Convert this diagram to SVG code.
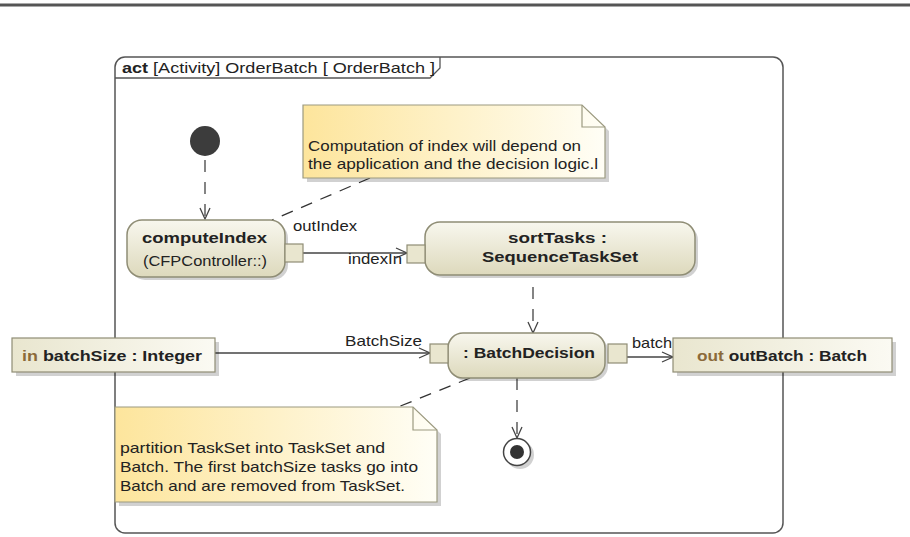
<svg xmlns="http://www.w3.org/2000/svg" width="910" height="537" viewBox="0 0 910 537">
<style>
text{font-family:"Liberation Sans",Arial,sans-serif;font-size:15px;fill:#222}
.b{font-weight:bold}
.kw{fill:#8b6a3a}
.node{fill:url(#ng);stroke:#8f8d75;stroke-width:1.5}
.pin{fill:#e9e6cf;stroke:#8f8d75;stroke-width:1.2}
.obj{fill:url(#og);stroke:#8f8d75;stroke-width:1.2}
.note{fill:url(#yg);stroke:#9c9a80;stroke-width:1.2}
.sh{fill:#000;opacity:0.18}
.flow{fill:none;stroke:#444;stroke-width:1.3}
.ctrl{fill:none;stroke:#444;stroke-width:1.3;stroke-dasharray:12 10}
.anch{fill:none;stroke:#333;stroke-width:1.3;stroke-dasharray:12 9}
</style>
<defs>
<linearGradient id="ng" x1="0" y1="0" x2="0" y2="1"><stop offset="0" stop-color="#f8f7ee"/><stop offset="1" stop-color="#ddd9bc"/></linearGradient>
<linearGradient id="og" x1="0" y1="0" x2="1" y2="0"><stop offset="0" stop-color="#e9e6cf"/><stop offset="1" stop-color="#fbfaf3"/></linearGradient>
<linearGradient id="yg" x1="0" y1="0" x2="1" y2="0"><stop offset="0" stop-color="#fde59c"/><stop offset="1" stop-color="#fffef6"/></linearGradient>
<marker id="arr" markerWidth="14" markerHeight="12" refX="12" refY="6" orient="auto" markerUnits="userSpaceOnUse"><path d="M1,1 L12,6 L1,11" fill="none" stroke="#444" stroke-width="1.3"/></marker>
</defs>

<line x1="0" y1="5" x2="910" y2="5" stroke="#555" stroke-width="3"/>

<g id="frame">
<rect x="115" y="57" width="668" height="476" rx="10" fill="#fff" stroke="#555" stroke-width="1.5"/>
<path d="M115,78 L430,78 L440,68 L440,57" fill="none" stroke="#555" stroke-width="1.3"/>
<text x="122" y="73" textLength="313" lengthAdjust="spacingAndGlyphs"><tspan class="b">act</tspan> [Activity] OrderBatch [ OrderBatch ]</text>
</g>

<g id="connectors">
<line class="ctrl" x1="205" y1="160" x2="205" y2="219" marker-end="url(#arr)"/>
<line class="flow" x1="303" y1="253" x2="407" y2="253" marker-end="url(#arr)"/>
<line class="ctrl" x1="533" y1="287" x2="533" y2="333" marker-end="url(#arr)"/>
<line class="flow" x1="215" y1="353" x2="430" y2="353" marker-end="url(#arr)"/>
<line class="flow" x1="627" y1="357" x2="673" y2="357" marker-end="url(#arr)"/>
<line class="ctrl" x1="517" y1="378" x2="517" y2="438" marker-end="url(#arr)"/>
<line class="anch" x1="370" y1="178" x2="272" y2="220"/>
<line class="anch" x1="470" y1="378" x2="398" y2="407"/>
<text x="293" y="231" textLength="64" lengthAdjust="spacingAndGlyphs">outIndex</text>
<text x="348" y="264" textLength="54" lengthAdjust="spacingAndGlyphs">indexIn</text>
<text x="345" y="346" textLength="77" lengthAdjust="spacingAndGlyphs">BatchSize</text>
<text x="632" y="348" textLength="40" lengthAdjust="spacingAndGlyphs">batch</text>
</g>

<g id="initial">
<circle cx="205" cy="141" r="15" fill="#3c3c3c"/>
</g>

<g id="note1">
<path class="sh" d="M307,109 L586,109 L609,131 L609,182 L307,182 Z"/>
<path class="note" d="M303,105 L582,105 L605,127 L605,178 L303,178 Z"/>
<path d="M582,105 L582,127 L605,127" fill="none" stroke="#9c9a80" stroke-width="1.2"/>
<text x="308" y="151" textLength="273" lengthAdjust="spacingAndGlyphs">Computation of index will depend on</text>
<text x="308" y="169" textLength="290" lengthAdjust="spacingAndGlyphs">the application and the decision logic.l</text>
</g>

<g id="computeIndex">
<rect class="sh" x="130" y="223" width="158" height="57" rx="15"/>
<rect class="node" x="127" y="220" width="158" height="57" rx="15"/>
<rect class="pin" x="285" y="244" width="18" height="18"/>
<text class="b" x="142" y="243" textLength="125" lengthAdjust="spacingAndGlyphs">computeIndex</text>
<text x="143" y="266" textLength="124" lengthAdjust="spacingAndGlyphs">(CFPController::)</text>
</g>

<g id="sortTasks">
<rect class="sh" x="428" y="225" width="270" height="53" rx="15"/>
<rect class="node" x="425" y="222" width="270" height="53" rx="15"/>
<rect class="pin" x="407" y="245" width="18" height="18"/>
<text class="b" x="508" y="243" textLength="99" lengthAdjust="spacingAndGlyphs">sortTasks :</text>
<text class="b" x="482" y="262" textLength="156" lengthAdjust="spacingAndGlyphs">SequenceTaskSet</text>
</g>

<g id="BatchDecision">
<rect class="sh" x="451" y="336" width="157" height="45" rx="15"/>
<rect class="node" x="448" y="333" width="157" height="45" rx="15"/>
<rect class="pin" x="430" y="344" width="18" height="19"/>
<rect class="pin" x="608" y="344" width="19" height="19"/>
<text class="b" x="463" y="358" textLength="132" lengthAdjust="spacingAndGlyphs">: BatchDecision</text>
</g>

<g id="batchSize">
<rect class="sh" x="16" y="342" width="203" height="34"/>
<rect class="obj" x="12" y="338" width="203" height="34"/>
<text class="b" x="22" y="361" textLength="180" lengthAdjust="spacingAndGlyphs"><tspan class="kw">in</tspan> batchSize : Integer</text>
</g>

<g id="outBatch">
<rect class="sh" x="677" y="342" width="219" height="34"/>
<rect class="obj" x="673" y="338" width="219" height="34"/>
<text class="b" x="697" y="361" textLength="170" lengthAdjust="spacingAndGlyphs"><tspan class="kw">out</tspan> outBatch : Batch</text>
</g>

<g id="note2">
<path class="sh" d="M119,411 L417,411 L441,434 L441,506 L119,506 Z"/>
<path class="note" d="M115,407 L413,407 L437,430 L437,502 L115,502 Z"/>
<path d="M413,407 L413,430 L437,430" fill="none" stroke="#9c9a80" stroke-width="1.2"/>
<text x="120" y="453" textLength="265" lengthAdjust="spacingAndGlyphs">partition TaskSet into TaskSet and</text>
<text x="120" y="472" textLength="298" lengthAdjust="spacingAndGlyphs">Batch. The first batchSize tasks go into</text>
<text x="120" y="491" textLength="285" lengthAdjust="spacingAndGlyphs">Batch and are removed from TaskSet.</text>
</g>

<g id="final">
<circle cx="520" cy="455" r="14" fill="#000" opacity="0.18"/>
<circle cx="517" cy="452" r="13.5" fill="#fff" stroke="#444" stroke-width="1.5"/>
<circle cx="517" cy="452" r="7" fill="#333"/>
</g>
</svg>
